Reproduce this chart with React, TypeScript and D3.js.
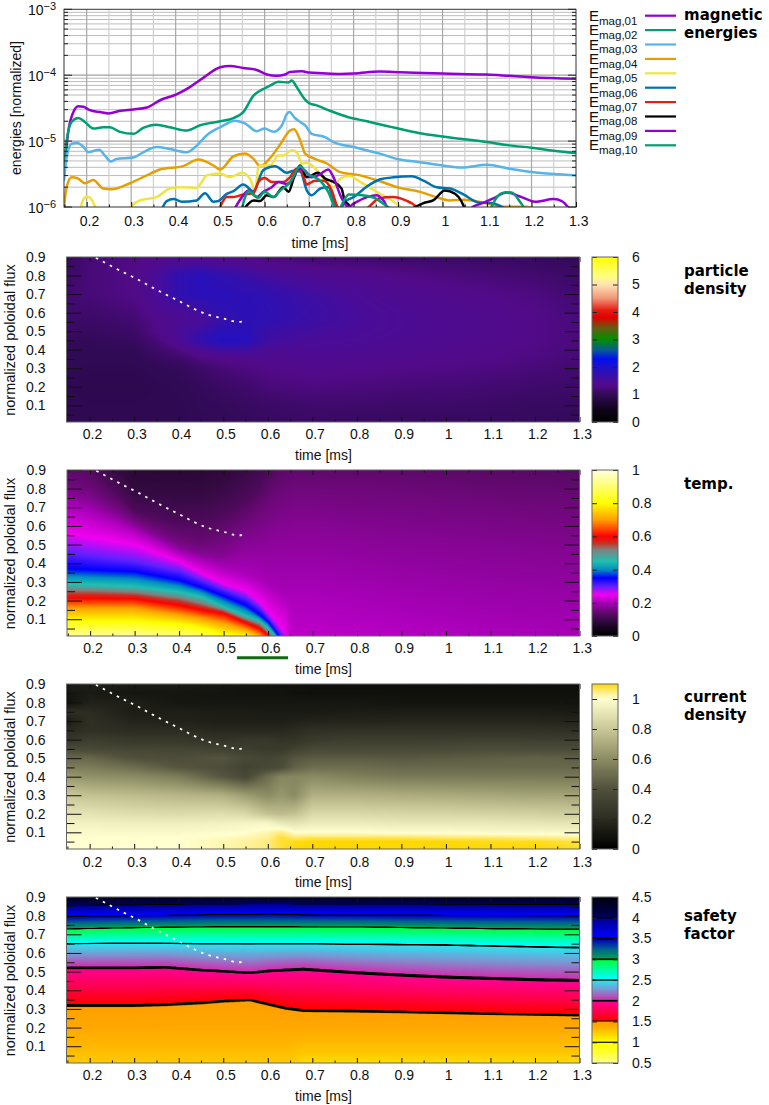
import React, { useEffect, useRef } from "react";
import * as d3 from "d3";

type Pt = [number, number];

// magnetic energies, [time in ms, log10(E)]
const energy01: Pt[] = [[0.149,-5.5],[0.159,-4.84],[0.17,-4.56],[0.181,-4.47],[0.193,-4.48],[0.207,-4.53],[0.23,-4.56],[0.249,-4.58],[0.275,-4.54],[0.305,-4.52],[0.335,-4.49],[0.365,-4.38],[0.402,-4.29],[0.432,-4.18],[0.462,-4.04],[0.5,-3.88],[0.522,-3.86],[0.552,-3.89],[0.582,-3.92],[0.605,-3.99],[0.627,-4.01],[0.646,-3.99],[0.657,-3.95],[0.684,-3.94],[0.7,-3.96],[0.73,-3.97],[0.77,-3.98],[0.8,-3.975],[0.859,-3.945],[0.905,-3.955],[1,-3.975],[1.1,-3.99],[1.15,-4.01],[1.2,-4.03],[1.3,-4.055]];
const energy02: Pt[] = [[0.149,-5.5],[0.155,-4.99],[0.166,-4.71],[0.181,-4.65],[0.196,-4.71],[0.215,-4.81],[0.237,-4.79],[0.252,-4.79],[0.275,-4.86],[0.305,-4.89],[0.327,-4.8],[0.357,-4.75],[0.387,-4.79],[0.425,-4.84],[0.455,-4.76],[0.5,-4.7],[0.53,-4.65],[0.552,-4.56],[0.575,-4.31],[0.594,-4.22],[0.612,-4.16],[0.631,-4.1],[0.654,-4.11],[0.661,-4.08],[0.672,-4.18],[0.691,-4.37],[0.702,-4.43],[0.713,-4.45],[0.747,-4.54],[0.785,-4.63],[0.83,-4.7],[0.875,-4.77],[0.949,-4.88],[1,-4.93],[1.1,-5.015],[1.15,-5.065],[1.2,-5.1],[1.25,-5.145],[1.3,-5.18]];
const energy03: Pt[] = [[0.149,-5.6],[0.155,-5.24],[0.166,-5.04],[0.179,-5.03],[0.193,-5.09],[0.204,-5.17],[0.215,-5.15],[0.228,-5.13],[0.241,-5.22],[0.254,-5.31],[0.267,-5.27],[0.305,-5.25],[0.327,-5.17],[0.357,-5.09],[0.387,-5.12],[0.425,-5.17],[0.444,-5.09],[0.47,-4.91],[0.5,-4.79],[0.534,-4.69],[0.556,-4.73],[0.582,-4.85],[0.6,-4.81],[0.62,-4.86],[0.639,-4.76],[0.65,-4.59],[0.656,-4.56],[0.668,-4.65],[0.68,-4.71],[0.691,-4.76],[0.706,-4.89],[0.736,-4.94],[0.755,-5.015],[0.8,-5.09],[0.859,-5.19],[0.904,-5.28],[0.949,-5.32],[1,-5.37],[1.043,-5.4],[1.1,-5.36],[1.15,-5.42],[1.2,-5.47],[1.25,-5.5],[1.3,-5.52]];
const energy04: Pt[] = [[0.149,-6],[0.155,-5.7],[0.166,-5.55],[0.181,-5.57],[0.196,-5.64],[0.215,-5.59],[0.237,-5.72],[0.256,-5.73],[0.297,-5.64],[0.335,-5.52],[0.365,-5.43],[0.417,-5.38],[0.451,-5.28],[0.485,-5.37],[0.5,-5.43],[0.53,-5.23],[0.556,-5.19],[0.575,-5.27],[0.59,-5.38],[0.612,-5.26],[0.635,-5.05],[0.657,-4.84],[0.666,-4.82],[0.68,-4.99],[0.691,-5.19],[0.713,-5.27],[0.74,-5.34],[0.77,-5.47],[0.815,-5.52],[0.859,-5.61],[0.904,-5.71],[0.949,-5.77],[0.986,-5.85],[1.016,-5.9],[1.047,-5.89],[1.085,-5.925],[1.136,-5.995],[1.19,-5.995],[1.204,-6.03]];
const energy05: Pt[] = [[0.185,-6.05],[0.193,-5.88],[0.2,-5.84],[0.208,-5.86],[0.218,-5.98],[0.228,-6.1],[0.29,-6.1],[0.3,-5.99],[0.32,-5.9],[0.357,-5.85],[0.387,-5.72],[0.41,-5.7],[0.447,-5.71],[0.47,-5.52],[0.5,-5.49],[0.522,-5.55],[0.549,-5.48],[0.567,-5.57],[0.579,-5.75],[0.586,-5.39],[0.597,-5.37],[0.612,-5.37],[0.631,-5.22],[0.642,-5.22],[0.661,-5.14],[0.672,-5.17],[0.684,-5.34],[0.695,-5.33],[0.71,-5.39],[0.736,-5.6],[0.755,-5.7],[0.77,-5.57],[0.79,-5.53],[0.815,-5.62],[0.852,-5.77],[0.89,-5.92],[0.912,-6.03]];
const energy06: Pt[] = [[0.369,-6.03],[0.38,-5.91],[0.395,-5.88],[0.414,-5.92],[0.447,-5.9],[0.466,-5.79],[0.485,-5.92],[0.496,-5.91],[0.515,-5.8],[0.53,-5.76],[0.552,-5.66],[0.575,-5.76],[0.597,-5.44],[0.624,-5.38],[0.65,-5.48],[0.665,-5.45],[0.68,-5.46],[0.695,-5.75],[0.706,-5.82],[0.725,-5.72],[0.743,-5.7],[0.76,-5.98],[0.77,-6.02],[0.781,-5.92],[0.8,-5.85],[0.83,-5.69],[0.86,-5.58],[0.89,-5.55],[0.931,-5.535],[0.957,-5.6],[0.987,-5.7],[1.017,-5.72],[1.047,-5.81],[1.08,-5.93],[1.11,-5.94],[1.137,-6.01]];
const energy07: Pt[] = [[0.5,-6],[0.515,-5.85],[0.53,-5.85],[0.552,-5.81],[0.575,-5.79],[0.586,-5.62],[0.6,-5.56],[0.616,-5.62],[0.642,-5.62],[0.657,-5.55],[0.672,-5.42],[0.684,-5.47],[0.695,-5.66],[0.713,-5.6],[0.732,-5.6],[0.751,-5.75],[0.762,-5.97],[0.77,-6.05],[0.82,-6.05],[0.832,-6.01],[0.857,-5.87],[0.887,-5.85],[0.917,-5.9],[0.94,-5.99],[0.945,-6.03]];
const energy08: Pt[] = [[0.556,-6.01],[0.575,-5.9],[0.59,-5.91],[0.605,-5.82],[0.62,-5.85],[0.642,-5.7],[0.654,-5.77],[0.665,-5.57],[0.68,-5.37],[0.695,-5.55],[0.72,-5.48],[0.736,-5.57],[0.755,-5.62],[0.773,-5.72],[0.78,-5.9],[0.788,-5.96],[0.796,-6.03],[0.93,-6.03],[0.938,-6],[0.957,-5.94],[0.979,-5.9],[1.005,-5.75],[1.028,-5.8],[1.043,-5.92],[1.05,-6.03]];
const energy09: Pt[] = [[0.534,-6.01],[0.549,-5.85],[0.564,-5.75],[0.582,-5.85],[0.597,-5.77],[0.616,-5.7],[0.631,-5.62],[0.65,-5.65],[0.665,-5.55],[0.676,-5.42],[0.691,-5.45],[0.706,-5.55],[0.725,-5.5],[0.743,-5.43],[0.755,-5.55],[0.77,-5.82],[0.788,-6],[0.8,-5.95],[0.83,-5.85],[0.852,-5.82],[0.867,-5.9],[0.88,-6.03],[1.06,-6.03],[1.07,-5.99],[1.09,-5.94],[1.114,-5.87],[1.144,-5.78],[1.174,-5.84],[1.208,-5.92],[1.25,-5.88],[1.268,-5.91],[1.283,-6.01]];
const energy10: Pt[] = [[0.549,-6.02],[0.564,-5.76],[0.586,-5.86],[0.6,-5.77],[0.62,-5.85],[0.635,-5.75],[0.657,-5.63],[0.68,-5.38],[0.695,-5.49],[0.725,-5.6],[0.743,-5.77],[0.758,-6],[0.766,-6.05],[0.776,-5.93],[0.789,-5.81],[0.819,-5.82],[0.849,-5.87],[0.871,-5.97],[0.883,-6.02],[1.105,-6.02],[1.11,-6],[1.12,-5.87],[1.14,-5.78],[1.155,-5.78],[1.174,-5.92],[1.183,-6.01]];
const energySeries = [energy01, energy02, energy03, energy04, energy05, energy06, energy07, energy08, energy09, energy10];
const energyNames = ["01", "02", "03", "04", "05", "06", "07", "08", "09", "10"];
const energyColors = ["#9400d3", "#009e73", "#56b4e9", "#e69f00", "#f0e442", "#0072b2", "#e51e10", "#000000", "#9400d3", "#009e73"];

// white dotted line on every map
const edgeLine: Pt[] = [[0.214,0.896],[0.244,0.857],[0.276,0.817],[0.308,0.779],[0.338,0.739],[0.369,0.7],[0.401,0.662],[0.432,0.623],[0.464,0.59],[0.499,0.569],[0.533,0.55],[0.549,0.554]];

const timeTicks = [0.2, 0.3, 0.4, 0.5, 0.6, 0.7, 0.8, 0.9, 1, 1.1, 1.2, 1.3];
const timeMinor = [0.15, 0.25, 0.35, 0.45, 0.55, 0.65, 0.75, 0.85, 0.95, 1.05, 1.15, 1.25];
const fluxTicks = [0.1, 0.2, 0.3, 0.4, 0.5, 0.6, 0.7, 0.8, 0.9];
const fluxMinor = [0.05, 0.15, 0.25, 0.35, 0.45, 0.55, 0.65, 0.75, 0.85];

// particle density, rows = densityFlux, columns = densityTimes
const densityTimes = [0.148, 0.2, 0.3, 0.35, 0.4, 0.45, 0.5, 0.55, 0.6, 0.7, 0.8, 0.9, 1, 1.1, 1.2, 1.3];
const densityFlux = [0.01, 0.1, 0.2, 0.3, 0.35, 0.4, 0.45, 0.5, 0.55, 0.6, 0.7, 0.8, 0.9];
const densityGrid = [
  [0.95,0.95,0.95,0.95,0.95,0.97,1.0,1.02,1.05,1.08,1.05,1.05,1.03,1.03,1.03,1.0],
  [0.95,0.95,0.95,0.95,0.95,1.0,1.02,1.05,1.08,1.12,1.12,1.1,1.1,1.08,1.05,1.05],
  [0.95,0.93,0.93,0.95,0.97,1.02,1.08,1.12,1.2,1.25,1.22,1.2,1.18,1.15,1.12,1.1],
  [0.97,0.95,0.95,0.98,1.02,1.1,1.2,1.25,1.3,1.35,1.33,1.3,1.28,1.25,1.2,1.15],
  [0.98,0.97,0.98,1.05,1.1,1.25,1.32,1.35,1.35,1.4,1.38,1.35,1.32,1.3,1.25,1.18],
  [1.0,0.98,1.0,1.1,1.25,1.45,1.6,1.6,1.45,1.45,1.42,1.4,1.35,1.32,1.28,1.2],
  [1.03,1.0,1.05,1.2,1.45,1.75,1.95,1.9,1.6,1.5,1.48,1.42,1.38,1.35,1.3,1.22],
  [1.08,1.05,1.1,1.3,1.5,1.65,1.85,1.85,1.65,1.55,1.5,1.45,1.4,1.35,1.3,1.22],
  [1.1,1.08,1.15,1.3,1.45,1.5,1.7,1.8,1.75,1.62,1.52,1.45,1.4,1.35,1.3,1.22],
  [1.15,1.12,1.2,1.4,1.45,1.6,1.75,1.82,1.78,1.65,1.52,1.45,1.4,1.35,1.3,1.2],
  [1.15,1.2,1.3,1.5,1.75,1.85,1.85,1.8,1.75,1.6,1.48,1.4,1.35,1.3,1.25,1.15],
  [1.1,1.2,1.3,1.5,1.75,1.85,1.75,1.65,1.55,1.42,1.38,1.3,1.25,1.2,1.15,1.08],
  [1.02,1.2,1.28,1.3,1.35,1.35,1.3,1.3,1.2,1.15,1.12,1.1,1.08,1.05,1.03,1.0],
];

// current density, same layout
const currentTimes = [0.148, 0.2, 0.3, 0.4, 0.5, 0.55, 0.6, 0.63, 0.66, 0.7, 0.8, 0.9, 1, 1.1, 1.2, 1.3];
const currentFlux = [0.01, 0.05, 0.07, 0.1, 0.15, 0.2, 0.3, 0.4, 0.45, 0.5, 0.55, 0.6, 0.65, 0.7, 0.75, 0.8, 0.85, 0.9];
const currentGrid = [
  [1.0,1.0,1.0,1.0,1.02,1.04,1.05,1.08,1.1,1.1,1.1,1.1,1.1,1.1,1.1,1.09],
  [1.0,1.0,1.0,1.0,1.02,1.03,1.05,1.08,1.09,1.1,1.1,1.1,1.1,1.09,1.09,1.07],
  [1.0,1.0,1.0,1.0,1.01,1.02,1.04,1.08,1.06,1.07,1.07,1.07,1.06,1.06,1.05,1.04],
  [0.98,0.98,0.98,0.98,0.99,1.0,1.02,1.05,1.0,1.0,1.0,0.99,0.99,0.98,0.98,0.97],
  [0.95,0.95,0.94,0.94,0.95,0.96,0.97,0.92,0.9,0.93,0.93,0.92,0.92,0.92,0.91,0.9],
  [0.9,0.9,0.88,0.87,0.88,0.86,0.78,0.76,0.78,0.86,0.86,0.85,0.85,0.84,0.83,0.82],
  [0.8,0.78,0.76,0.74,0.72,0.66,0.6,0.64,0.6,0.72,0.72,0.71,0.7,0.69,0.68,0.68],
  [0.65,0.62,0.6,0.55,0.42,0.36,0.5,0.58,0.58,0.6,0.56,0.54,0.54,0.54,0.54,0.54],
  [0.55,0.55,0.5,0.42,0.38,0.33,0.36,0.38,0.46,0.5,0.5,0.48,0.48,0.48,0.48,0.48],
  [0.48,0.48,0.4,0.38,0.42,0.36,0.34,0.36,0.42,0.44,0.44,0.43,0.44,0.45,0.46,0.45],
  [0.38,0.36,0.34,0.34,0.32,0.3,0.28,0.28,0.32,0.36,0.36,0.36,0.37,0.38,0.38,0.38],
  [0.25,0.3,0.26,0.26,0.24,0.26,0.26,0.24,0.24,0.28,0.3,0.3,0.3,0.31,0.3,0.3],
  [0.2,0.22,0.2,0.2,0.18,0.18,0.18,0.18,0.2,0.22,0.23,0.23,0.23,0.23,0.23,0.22],
  [0.12,0.22,0.16,0.15,0.14,0.14,0.14,0.14,0.15,0.16,0.16,0.17,0.17,0.17,0.17,0.16],
  [0.22,0.2,0.13,0.14,0.13,0.13,0.12,0.12,0.12,0.12,0.13,0.13,0.13,0.13,0.13,0.12],
  [0.08,0.15,0.14,0.1,0.1,0.1,0.1,0.1,0.1,0.1,0.1,0.09,0.09,0.09,0.09,0.09],
  [0.1,0.12,0.1,0.1,0.09,0.08,0.08,0.08,0.07,0.07,0.07,0.07,0.07,0.07,0.07,0.07],
  [0.14,0.14,0.12,0.12,0.1,0.09,0.09,0.08,0.08,0.07,0.07,0.06,0.06,0.06,0.06,0.06],
];

// temperature: flux at which each level sits, per time (fronts move too fast for a plain grid)
const tempTimes = [0.148, 0.2, 0.3, 0.4, 0.45, 0.5, 0.55, 0.58, 0.6, 0.62, 0.64, 0.66, 0.7, 0.9, 1.1, 1.3];
const tempLevels = [1, 0.8, 0.7, 0.6, 0.52, 0.45, 0.35, 0.3, 0.25, 0.2, 0.17, 0.15, 0.12, 0.09, 0.04, 0];
const tempContours = [
  [-0.03,-0.03,-0.03,-0.05,-0.06,-0.1,-0.12,-0.3,-0.6,-1.5,-1.5,-1.5,-1.5,-1.5,-1.5,-1.5],
  [0.09,0.09,0.09,0.075,0.055,0.02,0.01,-0.02,-0.2,-1.2,-1.2,-1.2,-1.2,-1.2,-1.2,-1.2],
  [0.16,0.16,0.16,0.125,0.105,0.08,0.045,0.015,-0.03,-1,-1,-1,-1,-1,-1,-1],
  [0.213,0.213,0.21,0.175,0.15,0.13,0.08,0.05,0.015,-0.08,-0.9,-0.9,-0.9,-0.9,-0.9,-0.9],
  [0.255,0.255,0.245,0.215,0.185,0.15,0.1,0.075,0.03,-0.02,-0.8,-0.8,-0.8,-0.8,-0.8,-0.8],
  [0.29,0.285,0.275,0.245,0.22,0.165,0.118,0.09,0.055,0,-0.2,-0.75,-0.75,-0.75,-0.75,-0.75],
  [0.37,0.365,0.355,0.31,0.27,0.225,0.175,0.125,0.085,0.02,-0.08,-0.7,-0.7,-0.7,-0.7,-0.7],
  [0.46,0.44,0.41,0.36,0.31,0.26,0.215,0.165,0.11,0.05,-0.02,-0.65,-0.65,-0.65,-0.65,-0.65],
  [0.56,0.54,0.5,0.41,0.345,0.29,0.25,0.19,0.14,0.08,0.02,-0.6,-0.6,-0.6,-0.6,-0.6],
  [0.72,0.68,0.58,0.46,0.42,0.38,0.35,0.32,0.29,0.26,0.24,0.25,0.25,0.15,0.05,0],
  [0.78,0.74,0.61,0.49,0.45,0.44,0.52,0.54,0.56,0.59,0.6,0.62,0.62,0.55,0.5,0.45],
  [0.83,0.8,0.64,0.53,0.5,0.54,0.62,0.68,0.72,0.77,0.8,0.82,0.82,0.8,0.75,0.72],
  [1.0,0.92,0.68,0.62,0.62,0.66,0.74,0.8,0.88,0.95,1,1,1,1,0.98,0.96],
  [1.2,1.1,0.8,0.78,0.8,0.85,0.95,1.05,1.15,1.2,1.25,1.25,1.25,1.25,1.25,1.25],
  [1.4,1.35,1.3,1.3,1.3,1.3,1.3,1.35,1.35,1.35,1.4,1.4,1.4,1.4,1.4,1.4],
  [1.6,1.6,1.6,1.6,1.6,1.6,1.6,1.6,1.6,1.6,1.6,1.6,1.6,1.6,1.6,1.6],
];

// safety factor: flux of each q level, per time
const safetyTimes = [0.148, 0.3, 0.37, 0.45, 0.5, 0.56, 0.6, 0.64, 0.68, 0.8, 0.9, 1, 1.1, 1.2, 1.3];
const safetyLevels = [0.5, 1.15, 1.25, 1.33, 1.4, 1.5, 2, 2.5, 3, 3.5, 4, 4.5];
const safetyContours = [
  [-1,-1,-1,-1,-1,-1,-1,-1,-1,-1,-1,-1,-1,-1,-1],
  [-0.15,-0.15,-0.15,-0.15,-0.15,-0.15,-0.12,-0.1,0.005,0.005,0.005,0.005,0.005,0.005,0.005],
  [0.02,0.02,0.02,0.02,0.02,0.02,0.02,0.02,0.06,0.06,0.06,0.06,0.06,0.06,0.06],
  [0.1,0.1,0.1,0.1,0.1,0.1,0.1,0.1,0.13,0.13,0.13,0.13,0.13,0.13,0.13],
  [0.2,0.2,0.2,0.2,0.2,0.2,0.2,0.2,0.2,0.2,0.2,0.2,0.2,0.2,0.2],
  [0.315,0.315,0.32,0.33,0.34,0.347,0.323,0.3,0.287,0.284,0.28,0.275,0.27,0.266,0.262],
  [0.522,0.522,0.525,0.509,0.502,0.493,0.504,0.51,0.515,0.495,0.482,0.471,0.464,0.457,0.453],
  [0.651,0.653,0.652,0.651,0.65,0.65,0.65,0.65,0.65,0.648,0.646,0.644,0.639,0.634,0.63],
  [0.729,0.736,0.738,0.74,0.741,0.741,0.741,0.741,0.74,0.74,0.737,0.734,0.731,0.729,0.727],
  [0.796,0.8,0.802,0.805,0.806,0.807,0.808,0.807,0.805,0.804,0.803,0.802,0.801,0.8,0.8],
  [0.855,0.858,0.86,0.862,0.863,0.864,0.864,0.864,0.863,0.862,0.862,0.861,0.861,0.86,0.86],
  [0.91,0.91,0.91,0.91,0.91,0.91,0.91,0.91,0.91,0.91,0.91,0.91,0.91,0.91,0.91],
];

// colour maps
const densityStops = [0, 0.5, 1, 1.3, 1.5, 1.75, 2, 2.3, 2.6, 3, 3.4, 3.8, 4.05, 4.5, 5, 5.3, 6];
const densityColors = ["#000000", "#12041e", "#320a58", "#520a88", "#4a0c98", "#3010b0", "#2010c8", "#0010f0", "#08589a", "#009000", "#606010", "#e00000", "#e81810", "#f09878", "#ffe4b4", "#ffff80", "#ffff00"];
const tempStops = [0, 0.05, 0.1, 0.15, 0.2, 0.25, 0.3, 0.35, 0.4, 0.45, 0.52, 0.56, 0.6, 0.7, 0.8, 1];
const tempColors = ["#000000", "#16051e", "#3a0a48", "#6c0878", "#a800b8", "#f000f0", "#6020ff", "#0000ff", "#0090c0", "#20c0b0", "#808080", "#c83020", "#ff0000", "#ffa000", "#ffff00", "#ffffe0"];
const currentStops = [0, 0.2, 0.4, 0.6, 0.8, 1, 1.05, 1.1];
const currentColors = ["#000000", "#2c2c22", "#50503c", "#8c8c64", "#c8c898", "#ffffd0", "#ffec80", "#ffd800"];
const safetyStops = [0.5, 0.75, 0.985, 0.99, 1.01, 1.015, 1.15, 1.25, 1.4, 1.494, 1.498, 1.525, 1.528, 1.75, 1.975, 1.98, 2.02, 2.025, 2.25, 2.48, 2.485, 2.515, 2.52, 2.75, 2.975, 2.98, 3.02, 3.025, 3.25, 3.475, 3.48, 3.52, 3.525, 3.75, 3.975, 3.98, 4.02, 4.025, 4.5];
const safetyColors = ["#ffff90", "#ffff30", "#ffff00", "#000000", "#000000", "#ffff00", "#ffe000", "#ffc800", "#ffa800", "#ffa000", "#000000", "#000000", "#ff0000", "#ff0050", "#ff0090", "#000000", "#000000", "#d030b0", "#8090d0", "#30e0f0", "#000000", "#000000", "#00ffff", "#00ffa0", "#00ff40", "#000000", "#000000", "#00a050", "#006090", "#0000c0", "#000000", "#000000", "#0000ff", "#0000c8", "#000090", "#000000", "#000000", "#000058", "#000008"];

type Field = (t: number, f: number) => number;

const bracket = (arr: number[], v: number) => {
  const i = Math.min(arr.length - 2, Math.max(0, d3.bisectRight(arr, v) - 1));
  return [i, Math.max(0, Math.min(1, (v - arr[i]) / (arr[i + 1] - arr[i])))];
};

function gridField(times: number[], flux: number[], grid: number[][]): Field {
  return (t, f) => {
    const [i, u] = bracket(times, t);
    const [j, v] = bracket(flux, f);
    const a = grid[j][i] + (grid[j][i + 1] - grid[j][i]) * u;
    const b = grid[j + 1][i] + (grid[j + 1][i + 1] - grid[j + 1][i]) * u;
    return a + (b - a) * v;
  };
}

function levelField(times: number[], levels: number[], contours: number[][]): Field {
  return (t, f) => {
    const [i, u] = bracket(times, t);
    const pos = contours.map((c) => c[i] + (c[i + 1] - c[i]) * u);
    const [j, v] = bracket(pos, f);
    return levels[j] + (levels[j + 1] - levels[j]) * v;
  };
}

function makeTable(stops: number[], colors: string[]) {
  const n = 4096;
  const lo = stops[0];
  const hi = stops[stops.length - 1];
  const scale = d3.scaleLinear<string>().domain(stops).range(colors).clamp(true);
  const table = new Uint8ClampedArray(n * 3);
  for (let i = 0; i < n; i++) {
    const c = d3.rgb(scale(lo + ((hi - lo) * i) / (n - 1)));
    table[i * 3] = c.r;
    table[i * 3 + 1] = c.g;
    table[i * 3 + 2] = c.b;
  }
  const index = (v: number) => Math.round(((Math.max(lo, Math.min(hi, v)) - lo) / (hi - lo)) * (n - 1)) * 3;
  return { table, index };
}

function paint(w: number, h: number, table: Uint8ClampedArray, index: (v: number) => number, value: (px: number, py: number) => number) {
  const canvas = document.createElement("canvas");
  canvas.width = w;
  canvas.height = h;
  const ctx = canvas.getContext("2d")!;
  const img = ctx.createImageData(w, h);
  for (let y = 0; y < h; y++) {
    for (let x = 0; x < w; x++) {
      const k = index(value(x, y));
      const o = (y * w + x) * 4;
      img.data[o] = table[k];
      img.data[o + 1] = table[k + 1];
      img.data[o + 2] = table[k + 2];
      img.data[o + 3] = 255;
    }
  }
  ctx.putImageData(img, 0, 0);
  return canvas.toDataURL();
}

const sans = "'Liberation Sans', sans-serif";
const bold = "'DejaVu Sans', sans-serif";

const panels = [
  { top: 257, bottom: 422, left: 66.5, right: 579.5, field: gridField(densityTimes, densityFlux, densityGrid), stops: densityStops, colors: densityColors, ticks: [0, 1, 2, 3, 4, 5, 6], title: ["particle", "density"], titleY: 276, labelDy: 12 },
  { top: 470, bottom: 636, left: 67, right: 579.5, field: levelField(tempTimes, tempLevels, tempContours), stops: tempStops, colors: tempColors, ticks: [0, 0.2, 0.4, 0.6, 0.8, 1], title: ["temp."], titleY: 489, labelDy: 12 },
  { top: 684, bottom: 849, left: 66.5, right: 579.5, field: gridField(currentTimes, currentFlux, currentGrid), stops: currentStops, colors: currentColors, ticks: [0, 0.2, 0.4, 0.6, 0.8, 1], title: ["current", "density"], titleY: 702, labelDy: 13 },
  { top: 897, bottom: 1063, left: 66.5, right: 579.5, field: levelField(safetyTimes, safetyLevels, safetyContours), stops: safetyStops, colors: safetyColors, ticks: [0.5, 1, 1.5, 2, 2.5, 3, 3.5, 4, 4.5], title: ["safety", "factor"], titleY: 921, labelDy: 12 },
];

const fmt = d3.format(".2~f");

function timeAxis(g: d3.Selection<SVGGElement, unknown, null, undefined>, x: d3.ScaleLinear<number, number>, y: number, baseline: number) {
  const bottom = g.append("g").attr("transform", `translate(0,${y})`);
  bottom.call(d3.axisBottom(x).tickValues(timeTicks).tickSize(-5).tickPadding(5).tickFormat((d) => fmt(d as number)));
  bottom.selectAll(".domain").remove();
  bottom.selectAll(".tick line").attr("stroke", "#111");
  bottom.selectAll(".tick text").attr("x", 2.3).attr("y", baseline).attr("dy", 0)
    .attr("font-family", sans).attr("font-size", 14).attr("fill", "#111");
  const minor = g.append("g").attr("transform", `translate(0,${y})`);
  minor.call(d3.axisBottom(x).tickValues(timeMinor).tickSize(-2.5).tickFormat(() => ""));
  minor.selectAll(".domain").remove();
  minor.selectAll(".tick line").attr("stroke", "#111");
}

export default function App() {
  const svgRef = useRef<SVGSVGElement | null>(null);

  useEffect(() => {
    const svg = d3.select(svgRef.current);
    svg.selectAll("*").remove();

    // --- energies ---
    const x0 = d3.scaleLinear().domain([0.149, 1.3]).range([64, 576]);
    const y0 = d3.scaleLog().domain([1e-6, 1e-3]).range([207, 9.3]);
    const top = svg.append("g");
    const minorGrid: number[] = [];
    [1e-6, 1e-5, 1e-4].forEach((d) => d3.range(2, 10).forEach((m) => minorGrid.push(d * m)));
    top.selectAll(".hm").data(minorGrid).enter().append("line")
      .attr("x1", 64).attr("x2", 576).attr("y1", (d) => y0(d)).attr("y2", (d) => y0(d))
      .attr("stroke", "#bcbcbc").attr("stroke-width", 1);
    top.selectAll(".vn").data(timeMinor.slice(1)).enter().append("line")
      .attr("x1", (d) => x0(d)).attr("x2", (d) => x0(d)).attr("y1", 9.3).attr("y2", 207)
      .attr("stroke", "#d0d0d0").attr("stroke-width", 1.2);
    top.selectAll(".vm").data(timeTicks.slice(0, -1)).enter().append("line")
      .attr("x1", (d) => x0(d)).attr("x2", (d) => x0(d)).attr("y1", 9.3).attr("y2", 207)
      .attr("stroke", "#a8a8a8").attr("stroke-width", 1.2);
    top.selectAll(".hj").data([1e-5, 1e-4]).enter().append("line")
      .attr("x1", 64).attr("x2", 576).attr("y1", (d) => y0(d)).attr("y2", (d) => y0(d))
      .attr("stroke", "#a0a0a0").attr("stroke-width", 1.2);

    svg.append("clipPath").attr("id", "energy-clip").append("rect")
      .attr("x", 64).attr("y", 9.3).attr("width", 512).attr("height", 197.7);
    const line = d3.line<Pt>().x((d) => x0(d[0])).y((d) => y0(Math.pow(10, d[1]))).curve(d3.curveMonotoneX);
    const curves = top.append("g").attr("clip-path", "url(#energy-clip)");
    energySeries.forEach((s, i) => {
      curves.append("path").datum(s).attr("d", line).attr("fill", "none")
        .attr("stroke", energyColors[i]).attr("stroke-width", 2.5).attr("stroke-linejoin", "round");
    });

    top.append("rect").attr("x", 64).attr("y", 9.3).attr("width", 512).attr("height", 197.7)
      .attr("fill", "none").attr("stroke", "#333").attr("stroke-width", 1);
    const ticksG = top.append("g").attr("stroke", "#222").attr("stroke-width", 1);
    [1e-6, 1e-5, 1e-4, 1e-3].forEach((d) => {
      ticksG.append("line").attr("x1", 64).attr("x2", 72).attr("y1", y0(d)).attr("y2", y0(d));
      ticksG.append("line").attr("x1", 568).attr("x2", 576).attr("y1", y0(d)).attr("y2", y0(d));
    });
    minorGrid.forEach((d) => {
      ticksG.append("line").attr("x1", 64).attr("x2", 68).attr("y1", y0(d)).attr("y2", y0(d));
      ticksG.append("line").attr("x1", 572).attr("x2", 576).attr("y1", y0(d)).attr("y2", y0(d));
    });
    timeAxis(top as any, x0, 207, 19);

    [-3, -4, -5, -6].forEach((e) => {
      const t = top.append("text").attr("x", 28).attr("y", y0(Math.pow(10, e)) + 5.5)
        .attr("font-family", sans).attr("font-size", 14).attr("fill", "#111");
      t.append("tspan").text("10");
      t.append("tspan").attr("dy", -5).attr("font-size", 11).text(`\u2212${-e}`);
    });
    top.append("text").attr("transform", "translate(21,108) rotate(-90)").attr("text-anchor", "middle")
      .attr("font-family", sans).attr("font-size", 14).attr("fill", "#111").text("energies [normalized]");
    top.append("text").attr("x", 320).attr("y", 247.5).attr("text-anchor", "middle")
      .attr("font-family", sans).attr("font-size", 14).attr("fill", "#111").text("time [ms]");

    // legend
    energyNames.forEach((n, i) => {
      const yy = 15.7 + i * 14.4;
      const t = top.append("text").attr("x", 589).attr("y", yy + 5).attr("font-family", sans).attr("font-size", 15).attr("fill", "#111");
      t.append("tspan").text("E");
      t.append("tspan").attr("dy", 3.8).attr("font-size", 11.5).text(`mag,${n}`);
      top.append("line").attr("x1", 645).attr("x2", 676).attr("y1", yy).attr("y2", yy)
        .attr("stroke", energyColors[i]).attr("stroke-width", 2.2);
    });
    ["magnetic", "energies"].forEach((s, i) => {
      top.append("text").attr("x", 684).attr("y", 19.5 + i * 18).attr("font-family", bold)
        .attr("font-weight", "bold").attr("font-size", 15).attr("fill", "#000").text(s);
    });

    // --- maps ---
    panels.forEach((p) => {
      const g = svg.append("g");
      const x = d3.scaleLinear().domain([0.148, 1.3]).range([p.left, p.right]);
      const y = d3.scaleLinear().domain([0.01, 0.9]).range([p.bottom, p.top]);
      const w = Math.round((p.right - p.left) * 2);
      const h = Math.round((p.bottom - p.top) * 2);
      const { table, index } = makeTable(p.stops, p.colors);
      const href = paint(w, h, table, index, (px, py) =>
        p.field(x.invert(p.left + (px + 0.5) / 2), y.invert(p.top + (py + 0.5) / 2))
      );
      g.append("image").attr("x", p.left).attr("y", p.top).attr("width", p.right - p.left)
        .attr("height", p.bottom - p.top).attr("preserveAspectRatio", "none").attr("href", href);

      const dotted = d3.line<Pt>().x((d) => x(d[0])).y((d) => y(d[1])).curve(d3.curveMonotoneX);
      g.append("path").datum(edgeLine).attr("d", dotted).attr("fill", "none")
        .attr("stroke", "#ffffff").attr("stroke-width", 1.8).attr("stroke-dasharray", "2.5 5.4");

      // ticks
      const axes = g.append("g");
      axes.append("g").attr("transform", `translate(${p.left},0)`).call(d3.axisLeft(y).tickValues(fluxTicks).tickSize(-15).tickPadding(21).tickFormat((d) => fmt(d as number)));
      axes.append("g").attr("transform", `translate(${p.left},0)`).call(d3.axisLeft(y).tickValues(fluxMinor).tickSize(-8).tickFormat(() => ""));
      axes.append("g").attr("transform", `translate(${p.right},0)`).call(d3.axisRight(y).tickValues(fluxTicks).tickSize(-15).tickFormat(() => ""));
      axes.append("g").attr("transform", `translate(${p.right},0)`).call(d3.axisRight(y).tickValues(fluxMinor).tickSize(-8).tickFormat(() => ""));
      axes.append("g").attr("transform", `translate(0,${p.top})`).call(d3.axisTop(x).tickValues(timeTicks).tickSize(-5).tickFormat(() => ""));
      axes.append("g").attr("transform", `translate(0,${p.top})`).call(d3.axisTop(x).tickValues(timeMinor).tickSize(-2.5).tickFormat(() => ""));
      axes.selectAll(".domain").remove();
      axes.selectAll(".tick line").attr("stroke", "#111");
      axes.selectAll(".tick text").attr("font-family", sans).attr("font-size", 14).attr("fill", "#111");
      timeAxis(axes as any, x, p.bottom, p.labelDy + 5);

      g.append("rect").attr("x", p.left).attr("y", p.top).attr("width", p.right - p.left).attr("height", p.bottom - p.top)
        .attr("fill", "none").attr("stroke", "#666").attr("stroke-width", 1);

      g.append("text").attr("transform", `translate(14.5,${(p.top + p.bottom) / 2 + 0.5}) rotate(-90)`).attr("text-anchor", "middle")
        .attr("font-family", sans).attr("font-size", 14.5).attr("fill", "#111").text("normalized poloidal flux");
      g.append("text").attr("x", 323.5).attr("y", p.bottom + 38).attr("text-anchor", "middle")
        .attr("font-family", sans).attr("font-size", 14).attr("fill", "#111").text("time [ms]");

      // colour bar
      const barX = 592;
      const barW = 26;
      const lo = p.stops[0];
      const hi = p.stops[p.stops.length - 1];
      const c = d3.scaleLinear().domain([lo, hi]).range([p.bottom, p.top]);
      const barHref = paint(2, h, table, index, (_px, py) => c.invert(p.top + (py + 0.5) / 2));
      g.append("image").attr("x", barX).attr("y", p.top).attr("width", barW).attr("height", p.bottom - p.top)
        .attr("preserveAspectRatio", "none").attr("href", barHref);
      const bar = g.append("g");
      bar.append("g").attr("transform", `translate(${barX + barW},0)`).call(d3.axisRight(c).tickValues(p.ticks).tickSize(-5).tickPadding(14).tickFormat((d) => d3.format("~g")(d as number)));
      bar.append("g").attr("transform", `translate(${barX},0)`).call(d3.axisLeft(c).tickValues(p.ticks).tickSize(-5).tickFormat(() => ""));
      bar.selectAll(".domain").remove();
      bar.selectAll(".tick line").attr("stroke", "#222");
      bar.selectAll(".tick text").attr("font-family", sans).attr("font-size", 14).attr("fill", "#111");
      g.append("rect").attr("x", barX).attr("y", p.top).attr("width", barW).attr("height", p.bottom - p.top)
        .attr("fill", "none").attr("stroke", "#666").attr("stroke-width", 1);

      p.title.forEach((s, i) => {
        g.append("text").attr("x", 684).attr("y", p.titleY + i * 18).attr("font-family", bold)
          .attr("font-weight", "bold").attr("font-size", 15).attr("fill", "#000").text(s);
      });
    });

    // disruption window under the temperature map
    const tempPanel = panels[1];
    const xt = d3.scaleLinear().domain([0.148, 1.3]).range([tempPanel.left, tempPanel.right]);
    svg.append("line").attr("x1", xt(0.53)).attr("x2", xt(0.645)).attr("y1", 657.7).attr("y2", 657.7)
      .attr("stroke", "#0f6b0f").attr("stroke-width", 3);
  }, []);

  return <svg ref={svgRef} width={769} height={1105} style={{ position: "absolute", left: 0, top: 0, background: "#fff" }} />;
}
